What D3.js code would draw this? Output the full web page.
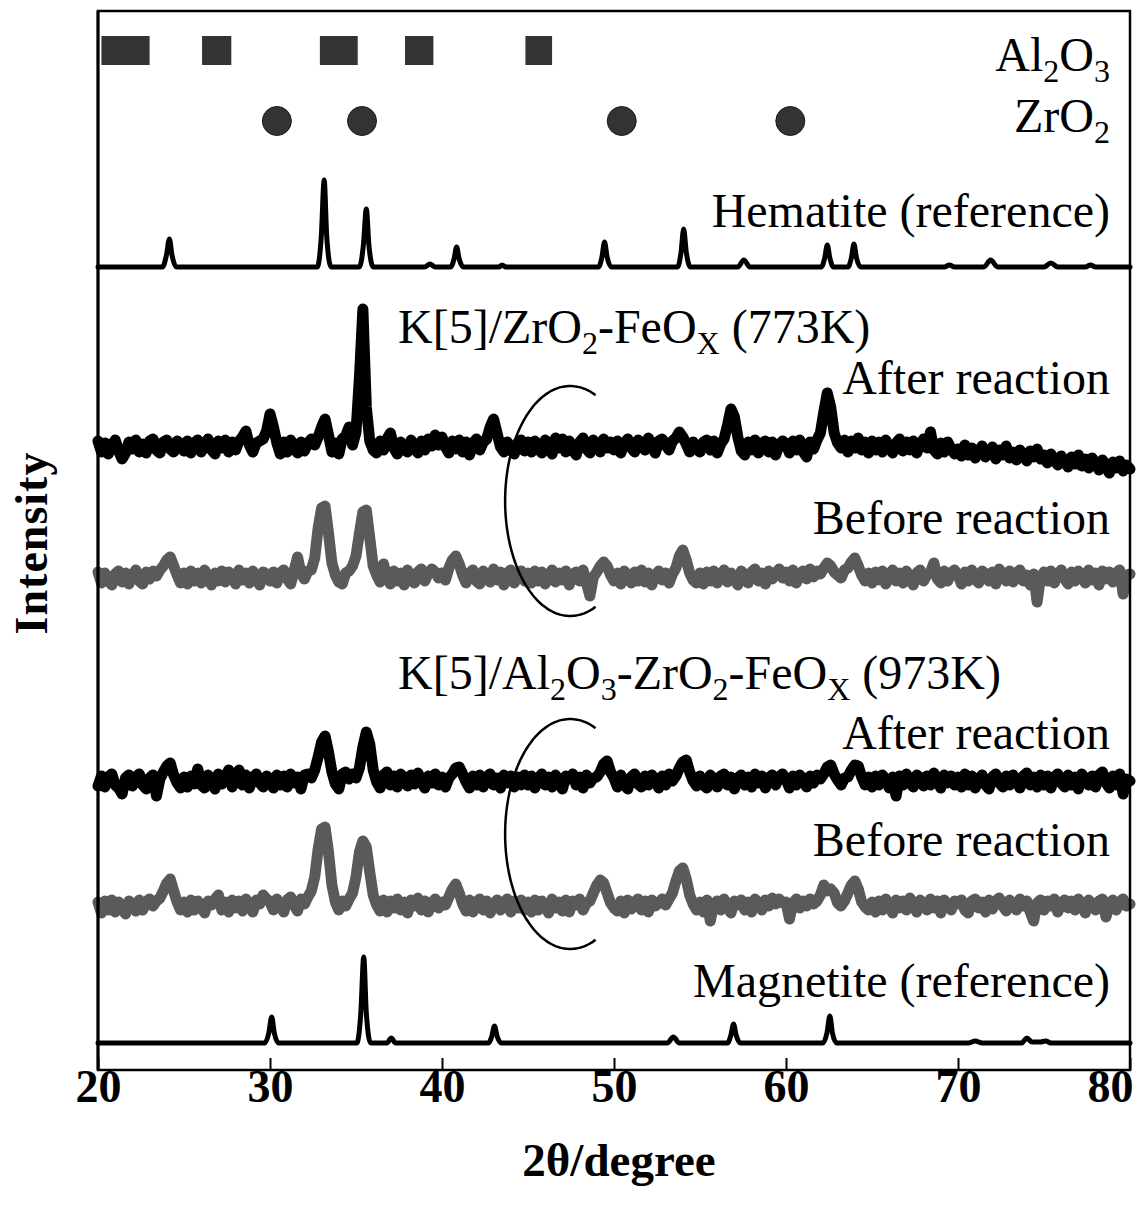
<!DOCTYPE html>
<html>
<head>
<meta charset="utf-8">
<script src="https://cdn.jsdelivr.net/npm/d3@7"></script>
<style>
  body { margin: 0; background: #fff; }
  svg { display: block; }
  text { font-family: "Liberation Serif", "Times New Roman", serif; white-space: pre; }
</style>
</head>
<body>
<svg id="chart" width="1143" height="1212"></svg>
<script>
// ---- data -------------------------------------------------------------
// Measured patterns: intensity (a.u.) on a 0.2 degree grid from 20 to 80 deg.
const GRID_START = 20;
const GRID_STEP = 0.2;

// K[5]/ZrO2-FeOx (773K), after reaction
const zrAfter = [
  6, -5, 4, -7, 2, 7, -4, -12, -6, 5, -2, 7, -5, 3, -6, 6, 8, -3, -6, 5, 7, -2, -5, 6, 3,
  -4, 6, -6, 4, 7, -5, 3, 8, -3, -7, 6, -1, 7, -5, 5, -3, 6, 10, 16, 2, -5, 4, 6, 8, 16,
  33, 20, 4, -7, 5, -5, 7, -2, -6, 5, -4, 4, 8, 2, 10, 20, 28, 12, -5, 4, -7, 8, 11, 20, 2,
  15, 70, 138, 40, 6, -3, -6, 6, -3, 8, 14, -1, -7, 5, -3, -5, 7, -1, -6, 6, -3, 8, 1, 12, 2,
  10, 0, -6, 6, -2, 7, -5, 5, -8, 4, 8, -3, 5, 8, 20, 28, 14, 0, -5, 5, -3, -7, 4, 7, -4,
  5, -5, 6, -2, -6, 7, 3, -7, 9, -1, 8, -5, 6, -3, -8, 5, 9, -2, -6, 7, 3, -5, 8, -1, 5,
  -3, 6, -6, 4, 8, -1, -5, 7, 4, -3, 9, 1, -6, 6, 8, 2, -3, 6, 9, 15, 10, 3, -5, 5, -2,
  -5, 5, 7, -3, 6, -6, 3, 8, 22, 38, 30, 10, -4, -8, 5, -3, 7, -6, 4, 6, -5, 5, -8, 2, 6,
  3, -6, 6, -3, 7, -5, -10, 5, -2, 7, 14, 35, 54, 40, 14, 4, -1, 7, -5, 6, -1, 9, -3, 5, -6,
  6, -3, 5, -5, 7, -1, -6, 4, 8, -4, 5, -3, 6, -6, 3, 8, -1, 15, -3, -7, 4, -5, 5, -2, -7,
  -2, -9, 2, -8, -1, -11, -4, 1, -10, -5, 0, -12, -3, -8, 1, -11, -5, -13, -3, -9, -14, -4, -10, -2, -12,
  -8, -16, -7, -13, -18, -9, -14, -20, -10, -17, -8, -19, -12, -21, -11, -17, -23, -13, -19, -26, -15, -21, -14, -24, -18,
  -22
];

// K[5]/ZrO2-FeOx (773K), before reaction
const zrBefore = [
  6, -5, 5, -3, -7, 4, 7, -4, 5, -6, 3, 8, -3, -6, 6, -1, 7, 2, 8, 12, 18, 21, 12, 3, -5,
  5, -6, 7, -3, 5, -5, 8, -1, -7, 5, -3, 7, -4, 6, 3, -6, 8, -2, 5, -5, 7, -1, -7, 6, 4,
  -3, 6, -5, 5, 8, -1, -6, 7, 21, 5, -1, 7, 8, 20, 50, 70, 72, 45, 15, 3, -4, -6, 5, 7, 12,
  22, 45, 66, 68, 40, 12, 3, -4, 14, 0, -6, 7, -3, 5, -7, 8, -2, -5, 6, 9, -3, 5, 9, 6, 0,
  5, -2, 10, 18, 22, 14, 3, -5, 5, 8, -3, -6, 7, 3, -4, 9, -2, 6, -7, 5, 8, -5, 3, 7, -3,
  5, -5, 7, -3, 6, -6, 3, 8, -4, 5, -2, 7, -7, 4, 6, -3, 8, -5, -18, 1, 6, 12, 16, 12, 3,
  -3, 5, -6, 7, 0, -5, 6, -3, 8, -4, 5, -7, 3, 7, -2, 5, -5, 4, 10, 22, 28, 18, 5, -2, -5,
  5, -6, 6, -3, 7, -5, 3, 8, -4, 5, -2, -7, 7, 3, -5, 6, 9, -3, 5, -6, 7, -1, 5, 9, 0,
  6, -3, 8, -5, 4, 7, -1, 9, 1, 7, 4, 10, 15, 12, 6, 3, 0, 8, 10, 16, 20, 12, 3, -3, 5,
  -5, 6, -2, 7, -6, 3, 8, -3, 5, -5, 7, -1, -7, 5, 8, -3, 3, 6, 15, -1, -5, 7, -3, 5, 8,
  3, -6, 6, -3, 8, -1, -5, 7, 4, -3, 6, -6, 9, 2, -3, 7, -4, 5, 8, -3, 3, -7, 4, -24, 1,
  6, -3, 7, -5, 4, 8, -1, -6, 6, -3, 7, 1, -5, 8, -2, 5, -7, 7, -1, 6, -4, 5, 8, -16, 3,
  4
];

// K[5]/Al2O3-ZrO2-FeOx (973K), after reaction
const alAfter = [
  -4, 6, -5, 5, 8, -3, -6, -12, 4, 7, -4, 5, 8, -3, -7, 4, 7, -14, 3, 10, 16, 19, 7, -1, -6,
  5, -5, 6, -2, 13, -3, -6, 7, 3, -7, 8, -2, 5, 12, -5, 6, 12, -3, 7, -6, 4, 8, -1, -5, 6,
  3, -6, 7, -3, 6, -5, 8, -1, 5, -7, 7, 8, 4, 12, 25, 40, 46, 30, 10, -2, -7, 8, 10, 3, 8,
  4, 14, 35, 50, 38, 12, 0, -6, 7, 10, -3, 6, -5, 8, 4, -4, 7, -2, 9, 1, -6, 6, -1, 8, -3,
  5, -5, 4, 8, 14, 15, 8, 0, -6, 6, -3, 7, -5, 5, 8, -3, 4, -6, 7, -1, 6, -5, 5, -3, 7,
  -3, 6, -6, 4, 8, -3, 5, -5, 7, -1, -7, 6, 3, 8, -3, 5, -6, 7, -1, 4, 5, 10, 18, 21, 10,
  4, -5, 7, -3, -7, 5, 8, -2, -5, 6, -3, 7, 3, -6, 6, -3, 8, 1, 6, 14, 20, 22, 10, 1, -4,
  6, -3, -6, 7, 3, -5, 6, 8, -3, 5, -7, 4, 7, -3, 5, -5, 8, -1, 6, -6, 4, 7, -3, 5, 8,
  3, -6, 6, -3, 7, 3, -5, 6, -1, 7, 3, 8, 15, 17, 8, 2, -3, 4, 5, 12, 17, 16, 5, -3, 5,
  -5, 6, -3, 7, 3, -6, 5, -14, 6, -3, 8, -1, -5, 7, 4, -4, 6, -3, 9, 1, -6, 7, -1, 6, -3,
  5, -5, 8, -3, 6, -6, 3, 7, -3, -7, 5, 8, -1, -5, 6, -3, 7, 2, -6, 6, 9, -3, 5, -5, 7,
  -3, 6, -6, 5, 8, -1, -5, 7, -3, 5, -7, 8, 3, -3, 6, -5, 7, 10, -1, -6, 6, -3, 8, -12, 3,
  1
];

// K[5]/Al2O3-ZrO2-FeOx (973K), before reaction
const alBefore = [
  5, -6, 6, -3, 7, -5, 5, -2, -7, 6, 3, -4, 7, -3, 5, 8, 1, 6, 9, 16, 24, 28, 16, 5, -3,
  5, -5, 7, -3, 6, -1, -6, 6, 2, 8, 12, -3, 5, -5, 7, -1, 6, -4, 8, 1, -5, 7, 3, 12, 8,
  5, -3, 8, 1, -5, 7, 10, 2, -4, 8, 3, 10, 16, 30, 58, 78, 80, 55, 22, 5, -3, 6, 1, 8, 14,
  30, 55, 66, 60, 35, 12, 2, -4, 7, -5, 6, -1, 8, -3, 5, -6, 7, 1, 9, -3, 6, -5, 4, 8, -1,
  5, 2, 10, 18, 23, 14, 3, -4, 7, -5, 5, 8, -3, 6, -6, 3, 7, -3, 5, 8, -5, 6, -1, 7, -3,
  5, -5, 7, -3, 6, 1, -6, 8, -1, 5, -4, 7, -5, 6, 2, 8, -3, 4, 6, 14, 22, 27, 24, 14, 4,
  -1, -4, 6, -6, 7, -2, 5, 8, -3, 6, -5, 7, 1, 4, 8, 2, 8, 14, 26, 36, 39, 28, 12, 3, -3,
  5, -5, 7, -14, 3, 6, -3, 8, -1, -6, 6, 2, 7, -3, 5, -5, 8, 4, -3, 7, 1, 9, 3, 8, 4,
  5, -12, 4, 8, -1, 6, 1, 8, 3, 6, 12, 22, 16, 18, 14, 4, 1, 6, 14, 22, 26, 18, 5, 0, -3,
  5, -5, 6, -3, 8, 1, -6, 7, -1, 6, -3, 9, 2, -5, 7, 3, -3, 8, -1, 6, -6, 7, 2, -3, 6,
  3, 7, -3, -6, 6, 8, -1, 5, -5, 7, -2, 6, 9, 1, -4, 7, 3, -3, 8, 1, 6, -5, -14, 4, 7,
  -3, 6, 1, 8, -5, 4, 7, -1, 6, -3, 8, 2, -6, 7, 3, -3, 6, 8, -10, 1, 7, -3, 5, 8, 1,
  3
];

// Reference patterns as [2theta, intensity] points
const hematite = [
  [20.0, 0], [23.75, 0], [23.98, 12], [24.15, 28], [24.3, 12], [24.55, 0],
  [32.75, 0], [32.98, 30], [33.15, 87], [33.3, 30], [33.55, 0],
  [35.2, 0], [35.43, 22], [35.6, 58], [35.75, 22], [36.0, 0],
  [39.0, 0], [39.3, 3], [39.6, 0],
  [40.5, 0], [40.7, 8], [40.85, 20], [41.0, 8], [41.25, 0],
  [43.3, 0], [43.5, 2], [43.7, 0],
  [49.1, 0], [49.3, 10], [49.45, 25], [49.6, 10], [49.85, 0],
  [53.7, 0], [53.9, 15], [54.05, 38], [54.2, 15], [54.45, 0],
  [57.2, 0], [57.55, 7], [57.9, 0],
  [62.05, 0], [62.25, 9], [62.4, 22], [62.55, 9], [62.75, 0],
  [63.6, 0], [63.8, 9], [63.95, 23], [64.1, 9], [64.35, 0],
  [69.2, 0], [69.5, 2], [69.8, 0],
  [71.5, 0], [71.9, 7], [72.3, 0],
  [75.0, 0], [75.4, 4], [75.8, 0],
  [77.4, 0], [77.7, 2], [78.0, 0], [80.0, 0]
];

const magnetite = [
  [20.0, 0], [29.7, 0], [29.93, 10], [30.1, 26], [30.25, 10], [30.5, 0],
  [35.05, 0], [35.28, 30], [35.45, 86], [35.6, 30], [35.85, 0],
  [36.8, 0], [37.05, 5], [37.3, 0],
  [42.7, 0], [42.9, 7], [43.05, 17], [43.2, 7], [43.45, 0],
  [53.1, 0], [53.45, 6], [53.8, 0],
  [56.6, 0], [56.8, 8], [56.95, 19], [57.1, 8], [57.35, 0],
  [62.15, 0], [62.38, 10], [62.55, 27], [62.7, 10], [62.95, 0],
  [70.6, 0], [71.0, 2], [71.4, 0],
  [73.7, 0], [74.0, 5], [74.3, 1], [74.8, 1], [75.1, 2], [75.4, 0], [80.0, 0]
];

// Stacking offsets (a.u.), top to bottom
const stackOffsets = [803, 623, 492, 288, 163, 27];

// Phase reflection markers (2theta)
const al2o3Ranges = [[20.2, 23.0], [26.05, 27.75], [32.9, 35.1], [37.85, 39.5], [44.85, 46.4]];
const zro2Positions = [30.4, 35.35, 50.45, 60.25];

// Axis ticks
const xTicks = [20, 30, 40, 50, 60, 70, 80];

// ---- drawing ----------------------------------------------------------
const L = 98, R = 1130, T = 11, B = 1070;
const svg = d3.select("#chart");

const x = d3.scaleLinear().domain([20, 80]).range([L, R]);
const y = d3.scaleLinear().domain([0, B - T]).range([B, T]);

const grid = arr => arr.map((v, i) => [GRID_START + i * GRID_STEP, v]);

const series = [
  { pts: hematite,       color: "#000",    width: 5,  curve: d3.curveMonotoneX },
  { pts: grid(zrAfter),  color: "#000",    width: 11, curve: d3.curveLinear },
  { pts: grid(zrBefore), color: "#5a5a5a", width: 11, curve: d3.curveLinear },
  { pts: grid(alAfter),  color: "#000",    width: 11, curve: d3.curveLinear },
  { pts: grid(alBefore), color: "#5a5a5a", width: 11, curve: d3.curveLinear },
  { pts: magnetite,      color: "#000",    width: 5,  curve: d3.curveMonotoneX }
];

const traces = svg.append("g");
series.forEach((s, k) => {
  const off = stackOffsets[k];
  const line = d3.line()
    .x(d => x(d[0]))
    .y(d => y(off + d[1]))
    .curve(s.curve);
  traces.append("path")
    .datum(s.pts)
    .attr("d", line)
    .attr("fill", "none")
    .attr("stroke", s.color)
    .attr("stroke-width", s.width)
    .attr("stroke-linejoin", "round")
    .attr("stroke-linecap", "round");
});

// Al2O3 markers (squares) and ZrO2 markers (circles)
svg.append("g").selectAll("rect")
  .data(al2o3Ranges)
  .join("rect")
  .attr("x", d => x(d[0]))
  .attr("width", d => x(d[1]) - x(d[0]))
  .attr("y", 36)
  .attr("height", 29)
  .attr("fill", "#333");

svg.append("g").selectAll("circle")
  .data(zro2Positions)
  .join("circle")
  .attr("cx", d => x(d))
  .attr("cy", 121)
  .attr("r", 14.5)
  .attr("fill", "#333")
  .attr("stroke", "#1a1a1a")
  .attr("stroke-width", 1);

// Bracket arcs grouping the before/after pairs
const brackets = [{ c: 47.45, level: 569 }, { c: 47.45, level: 236 }];
const rxDeg = 3.78, ryAu = 115;
brackets.forEach(b => {
  const pts = d3.range(67, 294, 2).map(a => {
    const t = a * Math.PI / 180;
    return [x(b.c + rxDeg * Math.cos(t)), y(b.level + ryAu * Math.sin(t))];
  });
  svg.append("path")
    .attr("d", d3.line().curve(d3.curveCatmullRom)(pts))
    .attr("fill", "none")
    .attr("stroke", "#000")
    .attr("stroke-width", 2.5);
});

// Frame
svg.append("rect")
  .attr("x", L).attr("y", T)
  .attr("width", R - L).attr("height", B - T)
  .attr("fill", "none")
  .attr("stroke", "#000")
  .attr("stroke-width", 2.5);
svg.append("line")
  .attr("x1", L).attr("x2", L).attr("y1", T).attr("y2", B)
  .attr("stroke", "#000").attr("stroke-width", 3);

// Bottom axis with inward ticks
const axis = svg.append("g")
  .attr("transform", `translate(0,${B})`)
  .call(d3.axisBottom(x).tickValues(xTicks).tickSize(-12).tickFormat(d3.format("d")));
axis.select(".domain").remove();
axis.selectAll(".tick line").attr("stroke", "#000").attr("stroke-width", 2);
axis.selectAll(".tick text")
  .attr("y", 32).attr("dy", 0)
  .attr("x", d => (d === 80 ? -20 : 0))
  .attr("fill", "#000")
  .style("font-family", "'Liberation Serif', 'Times New Roman', serif")
  .style("font-weight", "bold")
  .style("font-size", "46px");

// Axis titles
svg.append("text")
  .attr("x", 619).attr("y", 1176)
  .attr("text-anchor", "middle")
  .style("font-weight", "bold").style("font-size", "47px")
  .text("2θ/degree");

svg.append("text")
  .attr("transform", "translate(47,543) rotate(-90)")
  .attr("text-anchor", "middle")
  .style("font-weight", "bold").style("font-size", "46px")
  .style("letter-spacing", "1px")
  .text("Intensity");

// Annotations with subscripts
const labels = [
  { parts: [["Al"], ["2", 1], ["O"], ["3", 1]], x: 1110, y: 71, anchor: "end" },
  { parts: [["ZrO"], ["2", 1]], x: 1110, y: 132, anchor: "end" },
  { parts: [["Hematite (reference)"]], x: 1110, y: 227, anchor: "end" },
  { parts: [["K[5]/ZrO"], ["2", 1], ["-FeO"], ["X", 1], [" (773K)"]], x: 398, y: 343, anchor: "start" },
  { parts: [["After reaction"]], x: 1110, y: 394, anchor: "end" },
  { parts: [["Before reaction"]], x: 1110, y: 534, anchor: "end" },
  { parts: [["K[5]/Al"], ["2", 1], ["O"], ["3", 1], ["-ZrO"], ["2", 1], ["-FeO"], ["X", 1], [" (973K)"]], x: 398, y: 689, anchor: "start" },
  { parts: [["After reaction"]], x: 1110, y: 749, anchor: "end" },
  { parts: [["Before reaction"]], x: 1110, y: 856, anchor: "end" },
  { parts: [["Magnetite (reference)"]], x: 1110, y: 997, anchor: "end" }
];
const SUB_SHIFT = 11;
labels.forEach(l => {
  const t = svg.append("text")
    .attr("x", l.x).attr("y", l.y)
    .attr("text-anchor", l.anchor)
    .style("font-size", "48px")
    .attr("fill", "#000");
  let down = false;
  l.parts.forEach(([s, sub]) => {
    const ts = t.append("tspan").text(s);
    if (sub) {
      ts.style("font-size", "32px");
      if (!down) { ts.attr("dy", SUB_SHIFT); down = true; }
    } else if (down) {
      ts.attr("dy", -SUB_SHIFT); down = false;
    }
  });
});
</script>
</body>
</html>
